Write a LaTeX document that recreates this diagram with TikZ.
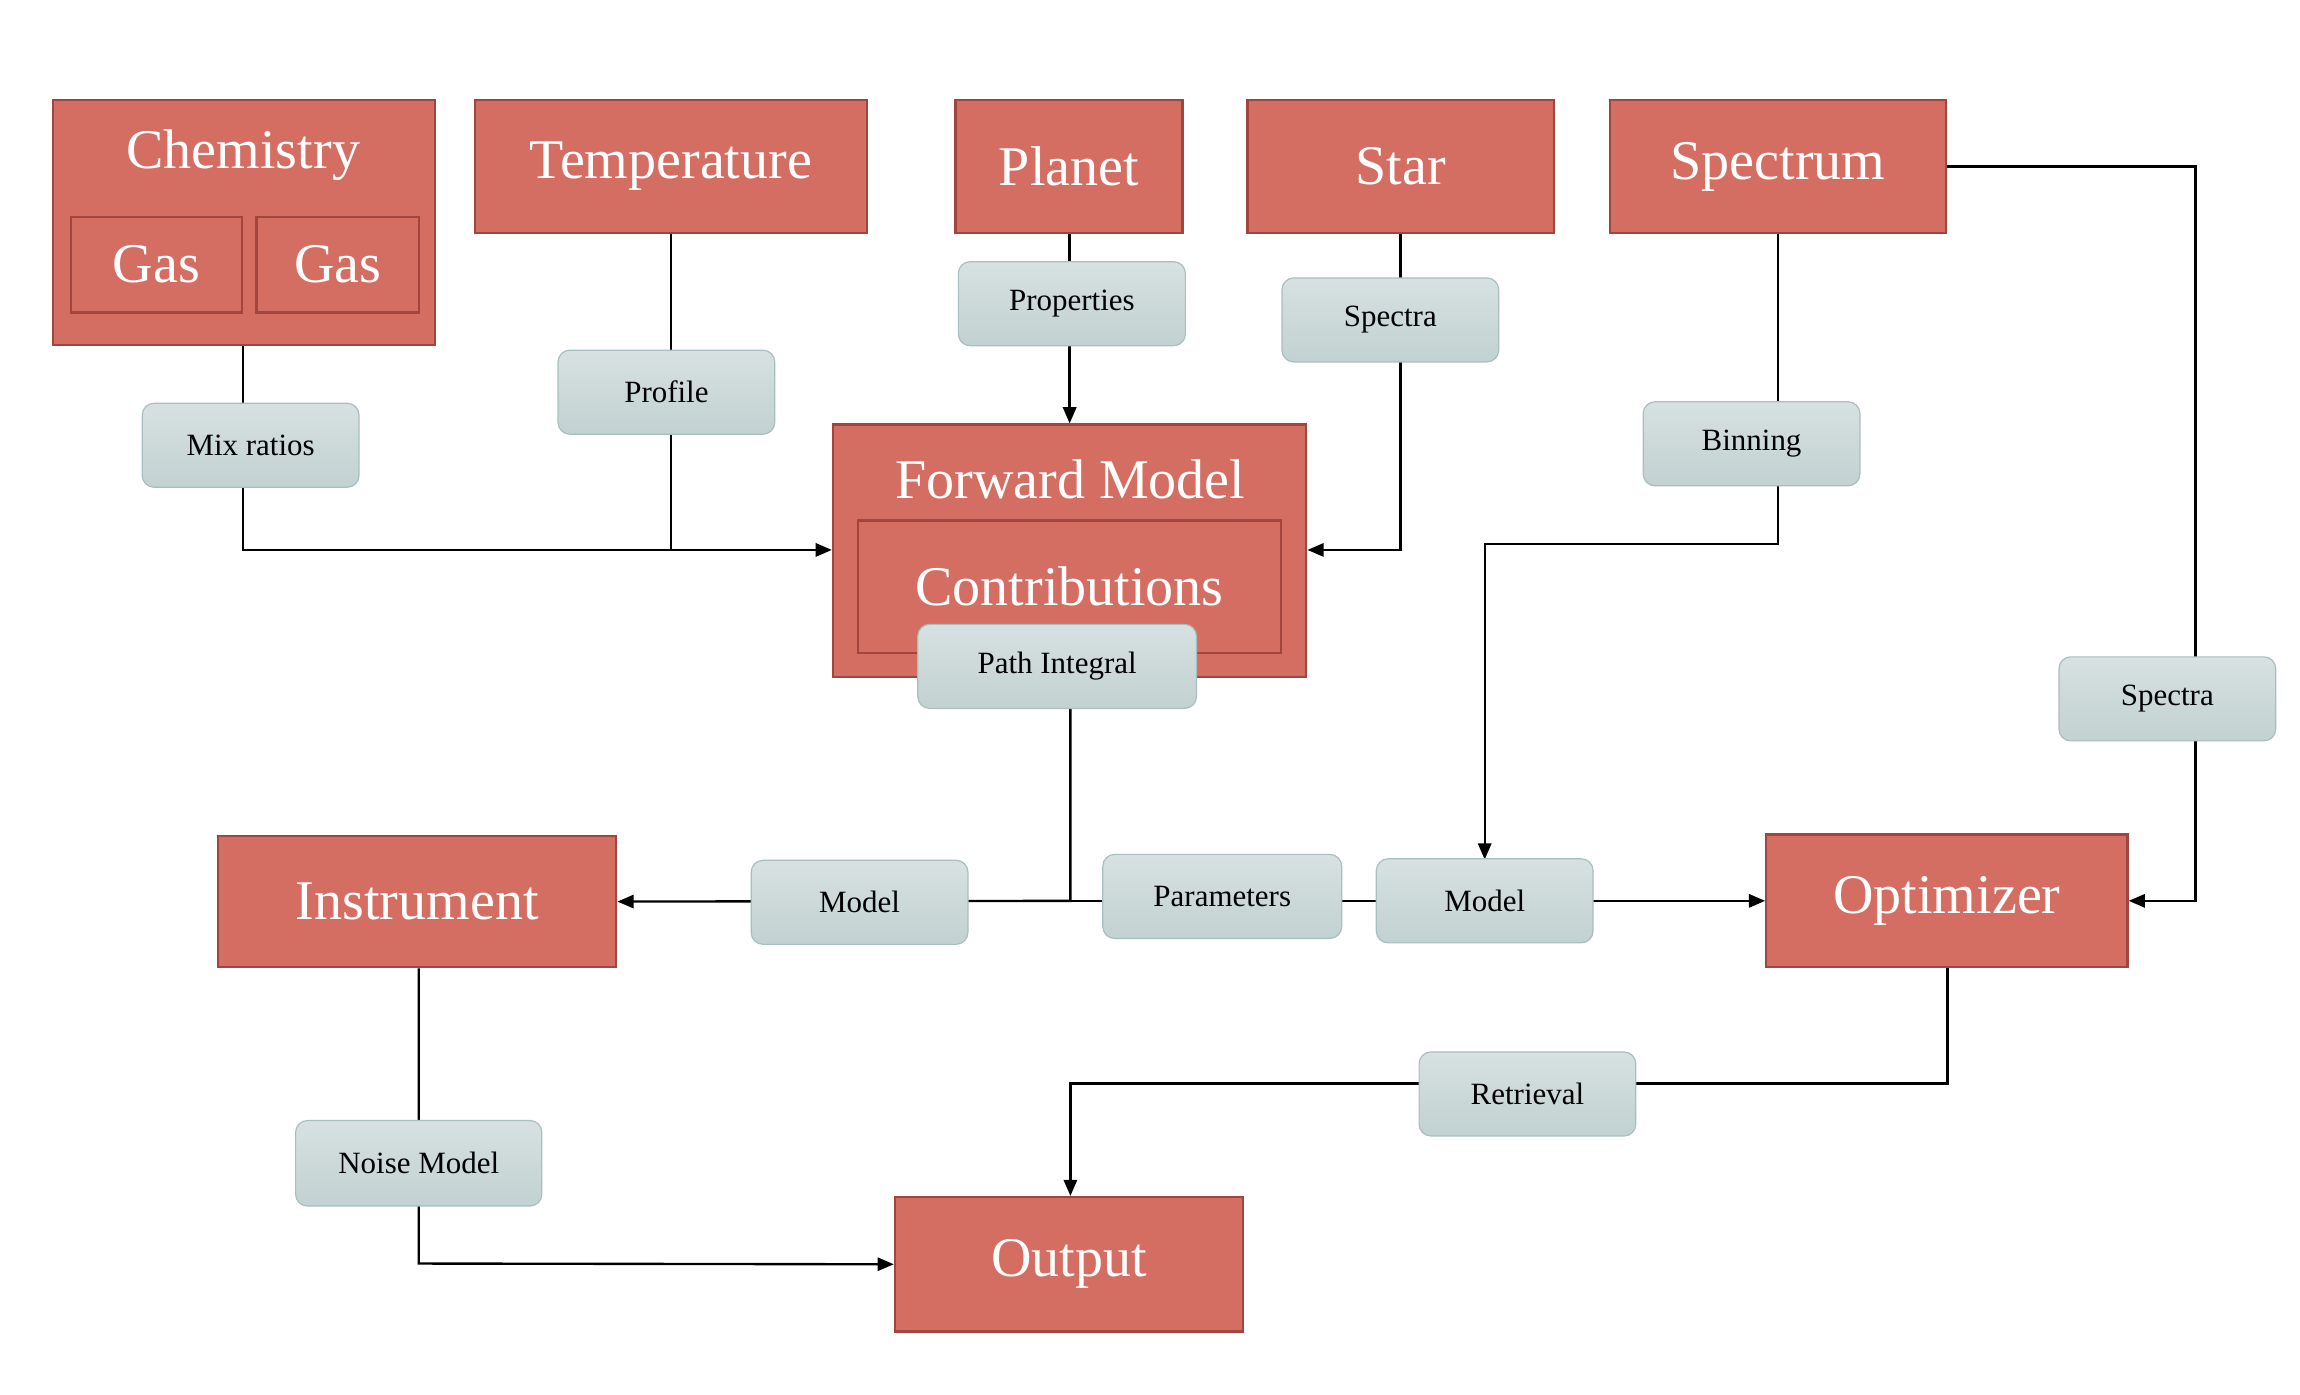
\documentclass[tikz,border=0pt]{standalone}
\usepackage{fontspec}
\setmainfont{Liberation Serif}
\usetikzlibrary{arrows.meta}
\definecolor{boxf}{HTML}{D46E63}
\definecolor{boxd}{HTML}{A0463F}
\definecolor{labt}{HTML}{D7E1E1}
\definecolor{labb}{HTML}{C2D1D1}
\definecolor{labd}{HTML}{A9BEBE}
\begin{document}
\begin{tikzpicture}[x=1pt,y=-1pt,
  box/.style={draw=boxd,line width=1.6pt,fill=boxf,text=white,font=\fontsize{38}{40}\selectfont,inner sep=0pt},
  inner/.style={draw=boxd,line width=1.6pt,fill=boxf,text=white,font=\fontsize{38}{40}\selectfont,inner sep=0pt},
  lab/.style={draw=labd,line width=0.8pt,rounded corners=8pt,top color=labt,bottom color=labb,font=\fontsize{21}{23}\selectfont,minimum width=147pt,minimum height=57pt,inner sep=0pt},
  ln/.style={line width=1.6pt},
  ar/.style={ln,-{Triangle[length=11pt,width=9pt]}}]
\useasboundingbox (0,0) rectangle (1560,946);
% boxes
\node[box,minimum width=259pt,minimum height=166pt] (chem) at (165.5,151) {};
\node[text=white,font=\fontsize{38}{40}\selectfont] (chemt) at (165,105) {Chemistry};
\node[inner,minimum width=116pt,minimum height=65pt] (gas1) at (106,179.5) {Gas};
\node[inner,minimum width=110pt,minimum height=65pt] (gas2) at (229,179.5) {Gas};
\node[box,minimum width=266pt,minimum height=90pt] (temp) at (455,113) {Temperature};
\node[box,minimum width=154pt,minimum height=90pt] (planet) at (725,113) {Planet};
\node[box,minimum width=208pt,minimum height=90pt] (star) at (950,113) {Star};
\node[box,minimum width=228pt,minimum height=90pt] (spec) at (1206,113) {Spectrum};
\node[box,minimum width=321pt,minimum height=171pt] (fm) at (725.5,373.5) {};
\node[text=white,font=\fontsize{38}{40}\selectfont] (fmt) at (726,325) {Forward Model};
\node[inner,minimum width=287pt,minimum height=90pt] (contr) at (725.5,398) {Contributions};
\node[box,minimum width=270pt,minimum height=89pt] (instr) at (283,611.5) {Instrument};
\node[box,minimum width=245pt,minimum height=90pt] (opt) at (1320.5,611) {Optimizer};
\node[box,minimum width=236pt,minimum height=91pt] (out) at (725,857.5) {Output};
% coordinates
\coordinate (c1) at (165,373);
\coordinate (c2) at (455,373);
\coordinate (c3) at (950,373);
\coordinate (c4) at (1206,369);
\coordinate (c5) at (1007,369);
\coordinate (c6) at (1489,113);
\coordinate (c7) at (1489,611);
\coordinate (c8) at (726,611);
\coordinate (c9) at (1321,735);
\coordinate (c10) at (726,735);
\coordinate (c11) at (284,857);
% edges
\draw[ar] (chem.south -| c1) -- (c1) -- (fm.west |- c1);
\draw[ln] (temp.south) -- (c2);
\draw[ar] (planet.south -| fm.north) -- (fm.north);
\draw[ar] (star.south) -- (c3) -- (fm.east |- c3);
\draw[ar] (spec.south) -- (c4) -- (c5) -- (1007,583);
\draw[ar] (spec.east) -- (c6) -- (c7) -- (opt.east);
\draw[ar] (fm.south -| c8) -- (c8) -- (instr.east);
\draw[ar] (c8) -- (opt.west);
\draw[ar] (opt.south -| c9) -- (c9) -- (c10) -- (out.north -| c10);
\draw[ar] (instr.south -| c11) -- (c11) -- (out.west);
% labels
\node[lab] (l1) at (170,302) {Mix ratios};
\node[lab] (l2) at (452,266) {Profile};
\node[lab,minimum width=154pt] (l3) at (727,206) {Properties};
\node[lab] (l4) at (943,217) {Spectra};
\node[lab] (l5) at (1188,301) {Binning};
\node[lab] (l6) at (1470,474) {Spectra};
\node[lab,minimum width=189pt] (l7) at (717,452) {Path Integral};
\node[lab] (l8) at (583,612) {Model};
\node[lab,minimum width=162pt] (l9) at (829,608) {Parameters};
\node[lab] (l10) at (1007,611) {Model};
\node[lab] (l11) at (1036,742) {Retrieval};
\node[lab,minimum width=167pt,minimum height=58pt] (l12) at (284,789) {Noise Model};
\end{tikzpicture}
\end{document}
